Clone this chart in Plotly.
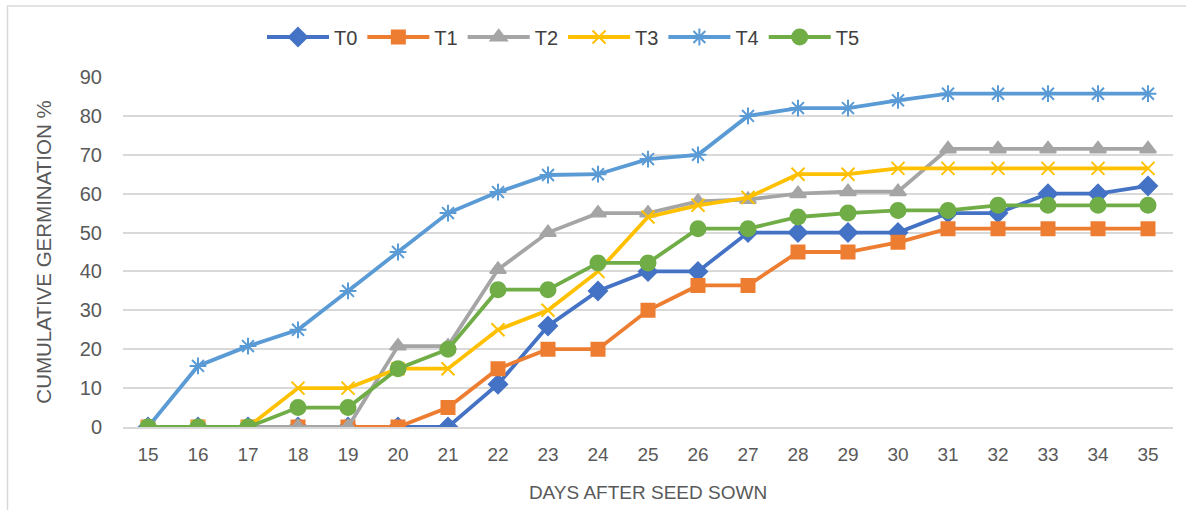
import plotly.graph_objects as go

days = [str(d) for d in range(15, 36)]
T0 = [0, 0, 0, 0, 0, 0, 0, 11, 26, 35, 40, 40, 50, 50, 50, 50, 55, 55, 60, 60, 62]
T1 = [0, 0, 0, 0, 0, 0, 5, 15, 20, 20, 30, 36.4, 36.4, 45, 45, 47.5, 51, 51, 51, 51, 51]
T2 = [0, 0, 0, 0, 0, 20.8, 20.8, 40.5, 50, 55, 55, 58, 58.5, 60, 60.5, 60.5, 71.5, 71.5, 71.5, 71.5, 71.5]
T3 = [0, 0, 0, 10, 10, 15, 15, 25, 30, 40, 54, 57, 59, 65, 65, 66.5, 66.5, 66.5, 66.5, 66.5, 66.5]
T4 = [0, 15.7, 20.8, 25, 35, 45, 55, 60.4, 64.8, 65, 68.9, 70, 80, 82, 82, 84, 85.7, 85.7, 85.7, 85.7, 85.7]
T5 = [0, 0, 0, 5, 5, 15, 20, 35.3, 35.3, 42.2, 42.2, 51, 51, 54, 55, 55.7, 55.7, 57, 57, 57, 57]

series = [
    ("T0", T0, "#4472C4", "diamond", 14),
    ("T1", T1, "#ED7D31", "square", 13),
    ("T2", T2, "#A5A5A5", "triangle-up", 14),
    ("T3", T3, "#FFC000", "x-thin-open", 13),
    ("T4", T4, "#5B9BD5", "asterisk-open", 14),
    ("T5", T5, "#70AD47", "circle", 15),
]

FONT = "Liberation Sans, Arial, sans-serif"

fig = go.Figure()
for name, vals, col, sym, sz in series:
    fig.add_trace(go.Scatter(
        x=days, y=vals, name=name, mode="lines+markers",
        line=dict(color=col, width=3.8),
        marker=dict(symbol=sym, size=sz, color=col, line=dict(color=col, width=2)),
    ))

fig.update_layout(
    width=1186, height=510,
    margin=dict(l=123, r=13, t=77, b=83, autoexpand=False),
    paper_bgcolor="white", plot_bgcolor="white",
    font=dict(family=FONT, size=18, color="#595959"),
    legend=dict(orientation="h", x=(262 - 123) / 1050, xanchor="left",
                y=(427 - 37) / 350, yanchor="middle",
                font=dict(size=20, color="#404040"), itemwidth=62, traceorder="normal"),
    xaxis=dict(type="category", range=[-0.5, 20.5], showgrid=False,
               showline=True, linecolor="#D9D9D9", linewidth=1.5,
               ticks="", ticklabelstandoff=9, tickfont=dict(size=19, color="#595959"),
               title=dict(text="DAYS AFTER SEED SOWN", font=dict(size=19, color="#595959"), standoff=22)),
    yaxis=dict(range=[0, 90], dtick=10, showgrid=True, gridcolor="#D9D9D9", gridwidth=1.5,
               zeroline=False, showline=False, ticks="", ticklabelstandoff=20,
               tickfont=dict(size=20, color="#595959"),
               title=dict(text="CUMULATIVE GERMINATION %", font=dict(size=20.5, color="#595959"), standoff=22)),
    showlegend=True,
)

fig.add_shape(type="rect", xref="paper", yref="paper",
              x0=(7.5 - 123) / 1050, x1=(1195 - 123) / 1050,
              y0=(427 - 520) / 350, y1=(427 - 6) / 350,
              line=dict(color="#D9D9D9", width=1.5), layer="below")

fig.write_html("out.html", config={"displayModeBar": False},
               post_script="document.body.style.margin='0';")
